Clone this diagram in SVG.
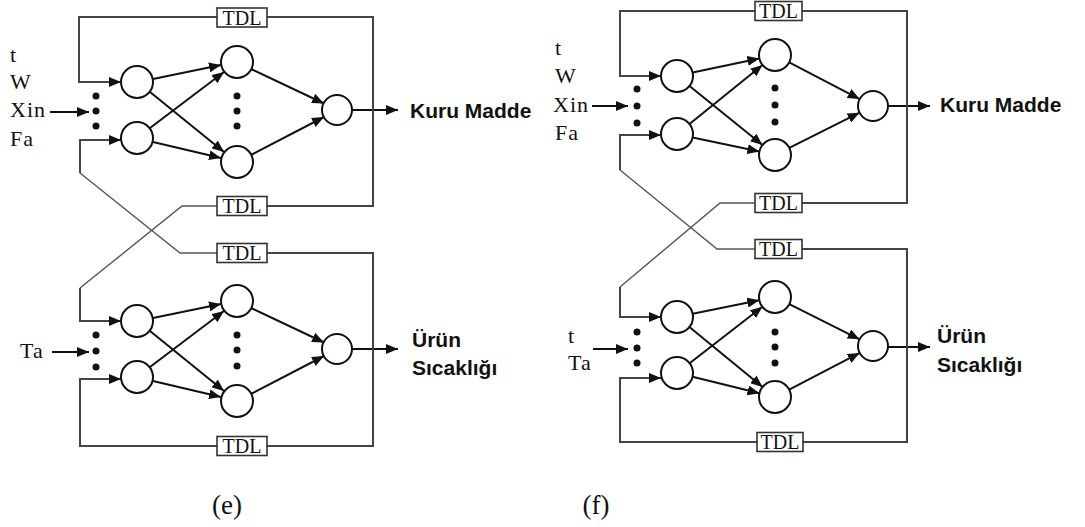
<svg xmlns="http://www.w3.org/2000/svg" width="1085" height="527" viewBox="0 0 1085 527">
<style>
.n{fill:#fff;stroke:#111;stroke-width:2}
.d{fill:#111}
.e{stroke:#111;stroke-width:2;fill:none}
.fb{stroke:#444;stroke-width:2;fill:none}
.x{stroke:#555;stroke-width:1.4;fill:none}
.tb{fill:#fff;stroke:#333;stroke-width:1.6}
.tt{font-family:"Liberation Serif",serif;font-size:20px;fill:#111;text-anchor:middle}
.in{font-family:"Liberation Serif",serif;font-size:22px;fill:#111;letter-spacing:1px}
.out{font-family:"Liberation Sans",Arial,sans-serif;font-size:21px;font-weight:bold;fill:#111}
.cap{font-family:"Liberation Serif",serif;font-size:27px;fill:#111;text-anchor:middle}
</style>
<defs>
<marker id="ah" markerUnits="userSpaceOnUse" markerWidth="12" markerHeight="10" refX="12" refY="5" orient="auto">
<path d="M0,0 L12,5 L0,10 z" fill="#111"/>
</marker>
</defs>
<rect width="1085" height="527" fill="#fff"/>

<g id="connectors">
<!-- (e) upper network -->
<line class="e" x1="153" y1="79" x2="221" y2="65" marker-end="url(#ah)"/>
<line class="e" x1="150" y1="92" x2="224" y2="152" marker-end="url(#ah)"/>
<line class="e" x1="150" y1="128" x2="224" y2="72" marker-end="url(#ah)"/>
<line class="e" x1="153" y1="142" x2="221" y2="158" marker-end="url(#ah)"/>
<line class="e" x1="251" y1="69" x2="324" y2="103.5" marker-end="url(#ah)"/>
<line class="e" x1="251" y1="155" x2="324" y2="117" marker-end="url(#ah)"/>
<line class="e" x1="352" y1="110" x2="398" y2="110" marker-end="url(#ah)"/>
<line class="e" x1="50" y1="112" x2="89" y2="112" marker-end="url(#ah)"/>
<!-- (e) lower network -->
<line class="e" x1="153" y1="318" x2="221" y2="304" marker-end="url(#ah)"/>
<line class="e" x1="150" y1="331" x2="224" y2="391" marker-end="url(#ah)"/>
<line class="e" x1="150" y1="367" x2="224" y2="311" marker-end="url(#ah)"/>
<line class="e" x1="153" y1="381" x2="221" y2="397" marker-end="url(#ah)"/>
<line class="e" x1="251" y1="308" x2="324" y2="342.5" marker-end="url(#ah)"/>
<line class="e" x1="251" y1="394" x2="324" y2="356" marker-end="url(#ah)"/>
<line class="e" x1="352" y1="349" x2="398" y2="349" marker-end="url(#ah)"/>
<line class="e" x1="52" y1="352" x2="89" y2="352" marker-end="url(#ah)"/>
<!-- (e) feedback -->
<path class="fb" d="M217,17 H79 V82 H121" marker-end="url(#ah)"/>
<path class="fb" d="M267,17 H373 V206 H267"/>
<path class="x" d="M217,206 H182 L80,288"/>
<path class="fb" d="M80,288 V321 H121" marker-end="url(#ah)"/>
<path class="x" d="M217,253 H180 L80,173"/>
<path class="fb" d="M80,173 V140 H121" marker-end="url(#ah)"/>
<path class="fb" d="M267,253 H373 V446 H267"/>
<path class="fb" d="M217,446 H80 V379 H121" marker-end="url(#ah)"/>

<!-- (f) upper network -->
<line class="e" x1="692.6" y1="72.6" x2="759.4" y2="58.4" marker-end="url(#ah)"/>
<line class="e" x1="689.5" y1="86" x2="762.5" y2="145" marker-end="url(#ah)"/>
<line class="e" x1="689.5" y1="124" x2="762.5" y2="65" marker-end="url(#ah)"/>
<line class="e" x1="692.6" y1="137.4" x2="759.4" y2="151.6" marker-end="url(#ah)"/>
<line class="e" x1="789.2" y1="62.4" x2="859.7" y2="99.1" marker-end="url(#ah)"/>
<line class="e" x1="789.3" y1="147.8" x2="859.6" y2="112.7" marker-end="url(#ah)"/>
<line class="e" x1="888" y1="106" x2="930" y2="106" marker-end="url(#ah)"/>
<line class="e" x1="592" y1="106" x2="628" y2="106" marker-end="url(#ah)"/>
<!-- (f) lower network -->
<line class="e" x1="692.7" y1="313.8" x2="759.3" y2="300.2" marker-end="url(#ah)"/>
<line class="e" x1="689.4" y1="327.1" x2="762.6" y2="386.9" marker-end="url(#ah)"/>
<line class="e" x1="689.6" y1="363.2" x2="762.4" y2="306.8" marker-end="url(#ah)"/>
<line class="e" x1="692.5" y1="376.8" x2="759.5" y2="393.2" marker-end="url(#ah)"/>
<line class="e" x1="789.3" y1="304.2" x2="859.6" y2="339.3" marker-end="url(#ah)"/>
<line class="e" x1="789.2" y1="389.6" x2="859.7" y2="352.9" marker-end="url(#ah)"/>
<line class="e" x1="888" y1="347" x2="930" y2="347" marker-end="url(#ah)"/>
<line class="e" x1="593" y1="349" x2="628" y2="349" marker-end="url(#ah)"/>
<!-- (f) feedback -->
<path class="fb" d="M755,11 H620 V76 H661" marker-end="url(#ah)"/>
<path class="fb" d="M802,11 H907 V203 H802"/>
<path class="x" d="M755,203 H720 L620,287"/>
<path class="fb" d="M620,287 V317 H661" marker-end="url(#ah)"/>
<path class="x" d="M755,249 H717 L620,170"/>
<path class="fb" d="M620,170 V135 H661" marker-end="url(#ah)"/>
<path class="fb" d="M802,249 H907 V442 H803"/>
<path class="fb" d="M757,442 H620 V378 H661" marker-end="url(#ah)"/>
</g>

<!-- (e) nodes -->
<g id="e-in1"><circle class="n" cx="137" cy="82" r="16"/></g>
<g id="e-in2"><circle class="n" cx="137" cy="138" r="16"/></g>
<g id="e-in-dots"><circle class="d" cx="96" cy="96" r="3.5"/><circle class="d" cx="96" cy="111" r="3.5"/><circle class="d" cx="96" cy="126" r="3.5"/></g>
<g id="e-h1"><circle class="n" cx="237" cy="62" r="16"/></g>
<g id="e-h2"><circle class="n" cx="237" cy="162" r="16"/></g>
<g id="e-h-dots"><circle class="d" cx="237" cy="96" r="3.5"/><circle class="d" cx="237" cy="111" r="3.5"/><circle class="d" cx="237" cy="126" r="3.5"/></g>
<g id="e-out1"><circle class="n" cx="337" cy="110" r="15"/></g>
<g id="e-in3"><circle class="n" cx="137" cy="321" r="16"/></g>
<g id="e-in4"><circle class="n" cx="137" cy="377" r="16"/></g>
<g id="e-in-dots2"><circle class="d" cx="96" cy="335" r="3.5"/><circle class="d" cx="96" cy="351" r="3.5"/><circle class="d" cx="96" cy="367" r="3.5"/></g>
<g id="e-h3"><circle class="n" cx="237" cy="301" r="16"/></g>
<g id="e-h4"><circle class="n" cx="237" cy="401" r="16"/></g>
<g id="e-h-dots2"><circle class="d" cx="237" cy="335" r="3.5"/><circle class="d" cx="237" cy="350" r="3.5"/><circle class="d" cx="237" cy="366" r="3.5"/></g>
<g id="e-out2"><circle class="n" cx="337" cy="349" r="15"/></g>
<g id="e-tdl1"><rect class="tb" x="217" y="8" width="50" height="19"/><text class="tt" x="242" y="24.5">TDL</text></g>
<g id="e-tdl2"><rect class="tb" x="217" y="196.5" width="50" height="19"/><text class="tt" x="242" y="213">TDL</text></g>
<g id="e-tdl3"><rect class="tb" x="217" y="243.5" width="50" height="19"/><text class="tt" x="242" y="260">TDL</text></g>
<g id="e-tdl4"><rect class="tb" x="217" y="436.5" width="50" height="19"/><text class="tt" x="242" y="453">TDL</text></g>
<g id="e-inputs1"><text class="in" x="10" y="62">t</text><text class="in" x="10" y="89">W</text><text class="in" x="10" y="117">Xin</text><text class="in" x="10" y="146">Fa</text></g>
<g id="e-inputs2"><text class="in" x="20" y="358">Ta</text></g>
<g id="e-label1"><text class="out" x="410" y="118">Kuru Madde</text></g>
<g id="e-label2"><text class="out" x="412" y="347">Ürün</text><text class="out" x="412" y="375">Sıcaklığı</text></g>

<!-- (f) nodes -->
<g id="f-in1"><circle class="n" cx="677" cy="76" r="16"/></g>
<g id="f-in2"><circle class="n" cx="677" cy="134" r="16"/></g>
<g id="f-in-dots"><circle class="d" cx="637" cy="89" r="3.5"/><circle class="d" cx="637" cy="106" r="3.5"/><circle class="d" cx="637" cy="123" r="3.5"/></g>
<g id="f-h1"><circle class="n" cx="775" cy="55" r="16"/></g>
<g id="f-h2"><circle class="n" cx="775" cy="155" r="16"/></g>
<g id="f-h-dots"><circle class="d" cx="775" cy="88" r="3.5"/><circle class="d" cx="775" cy="105" r="3.5"/><circle class="d" cx="775" cy="122" r="3.5"/></g>
<g id="f-out1"><circle class="n" cx="873" cy="106" r="15"/></g>
<g id="f-in3"><circle class="n" cx="677" cy="317" r="16"/></g>
<g id="f-in4"><circle class="n" cx="677" cy="373" r="16"/></g>
<g id="f-in-dots2"><circle class="d" cx="637" cy="332" r="3.5"/><circle class="d" cx="637" cy="348" r="3.5"/><circle class="d" cx="637" cy="363" r="3.5"/></g>
<g id="f-h3"><circle class="n" cx="775" cy="297" r="16"/></g>
<g id="f-h4"><circle class="n" cx="775" cy="397" r="16"/></g>
<g id="f-h-dots2"><circle class="d" cx="775" cy="332" r="3.5"/><circle class="d" cx="775" cy="347" r="3.5"/><circle class="d" cx="775" cy="363" r="3.5"/></g>
<g id="f-out2"><circle class="n" cx="873" cy="346" r="15"/></g>
<g id="f-tdl1"><rect class="tb" x="755" y="1.5" width="47" height="19"/><text class="tt" x="778.5" y="18">TDL</text></g>
<g id="f-tdl2"><rect class="tb" x="755" y="193.5" width="47" height="19"/><text class="tt" x="778.5" y="210">TDL</text></g>
<g id="f-tdl3"><rect class="tb" x="755" y="239.5" width="47" height="19"/><text class="tt" x="778.5" y="256">TDL</text></g>
<g id="f-tdl4"><rect class="tb" x="757" y="432.5" width="46" height="19"/><text class="tt" x="780" y="449">TDL</text></g>
<g id="f-inputs1"><text class="in" x="555" y="55">t</text><text class="in" x="555" y="83">W</text><text class="in" x="553" y="112">Xin</text><text class="in" x="555" y="140">Fa</text></g>
<g id="f-inputs2"><text class="in" x="568" y="343">t</text><text class="in" x="568" y="370">Ta</text></g>
<g id="f-label1"><text class="out" x="940" y="112">Kuru Madde</text></g>
<g id="f-label2"><text class="out" x="937" y="343">Ürün</text><text class="out" x="937" y="372">Sıcaklığı</text></g>

<g id="captions"><text class="cap" x="227" y="514">(e)</text><text class="cap" x="596" y="514">(f)</text></g>
</svg>
